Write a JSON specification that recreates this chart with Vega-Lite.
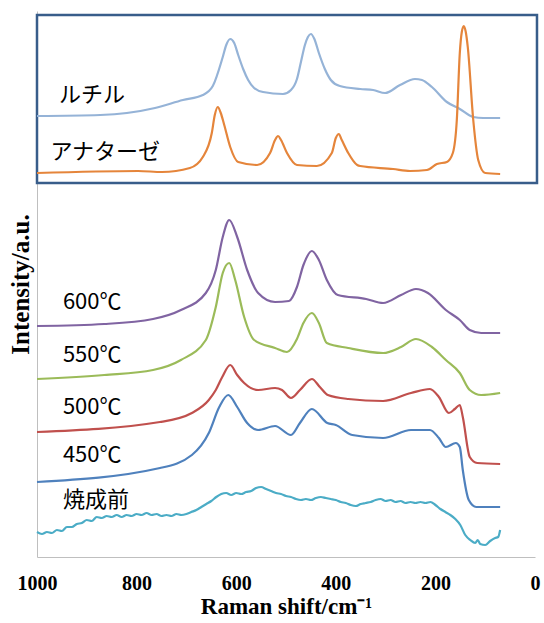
{
  "$schema": "https://vega.github.io/schema/vega-lite/v6.json",
  "width": 498,
  "height": 546,
  "autosize": {"type": "none"},
  "padding": {"left": 37, "top": 11, "right": 9, "bottom": 66},
  "background": "white",
  "config": {"view": {"stroke": null}},
  "datasets": {
    "spectra": [
      {"s":"rutile","wn":1000,"v":441},{"s":"rutile","wn":873,"v":442},{"s":"rutile","wn":763,"v":449},{"s":"rutile","wn":707,"v":457},{"s":"rutile","wn":667,"v":462},{"s":"rutile","wn":647,"v":471},{"s":"rutile","wn":627,"v":500},{"s":"rutile","wn":620,"v":512},{"s":"rutile","wn":612,"v":518},{"s":"rutile","wn":604,"v":514},{"s":"rutile","wn":596,"v":502},{"s":"rutile","wn":586,"v":488},{"s":"rutile","wn":576,"v":477},{"s":"rutile","wn":564,"v":469},{"s":"rutile","wn":546,"v":465},{"s":"rutile","wn":506,"v":463},{"s":"rutile","wn":490,"v":467},{"s":"rutile","wn":478,"v":478},{"s":"rutile","wn":470,"v":495},{"s":"rutile","wn":462,"v":512},{"s":"rutile","wn":456,"v":520},{"s":"rutile","wn":450,"v":523},{"s":"rutile","wn":443,"v":518},{"s":"rutile","wn":434,"v":504},{"s":"rutile","wn":422,"v":488},{"s":"rutile","wn":410,"v":477},{"s":"rutile","wn":392,"v":471},{"s":"rutile","wn":351,"v":468},{"s":"rutile","wn":325,"v":467},{"s":"rutile","wn":301,"v":464},{"s":"rutile","wn":271,"v":472},{"s":"rutile","wn":241,"v":478},{"s":"rutile","wn":227,"v":477},{"s":"rutile","wn":207,"v":470},{"s":"rutile","wn":177,"v":455},{"s":"rutile","wn":151,"v":448},{"s":"rutile","wn":124,"v":440},{"s":"rutile","wn":104,"v":439},{"s":"rutile","wn":70,"v":439},
      {"s":"anatase","wn":1000,"v":384},{"s":"anatase","wn":797,"v":386},{"s":"anatase","wn":749,"v":385},{"s":"anatase","wn":693,"v":389},{"s":"anatase","wn":667,"v":400},{"s":"anatase","wn":649,"v":424},{"s":"anatase","wn":643,"v":442},{"s":"anatase","wn":637,"v":450},{"s":"anatase","wn":631,"v":444},{"s":"anatase","wn":624,"v":432},{"s":"anatase","wn":612,"v":410},{"s":"anatase","wn":596,"v":395},{"s":"anatase","wn":558,"v":392},{"s":"anatase","wn":532,"v":404},{"s":"anatase","wn":522,"v":417},{"s":"anatase","wn":516,"v":421},{"s":"anatase","wn":510,"v":417},{"s":"anatase","wn":498,"v":404},{"s":"anatase","wn":478,"v":392},{"s":"anatase","wn":438,"v":391},{"s":"anatase","wn":408,"v":404},{"s":"anatase","wn":400,"v":419},{"s":"anatase","wn":394,"v":423},{"s":"anatase","wn":388,"v":417},{"s":"anatase","wn":375,"v":404},{"s":"anatase","wn":357,"v":392},{"s":"anatase","wn":351,"v":391},{"s":"anatase","wn":285,"v":388},{"s":"anatase","wn":251,"v":386},{"s":"anatase","wn":217,"v":387},{"s":"anatase","wn":197,"v":393},{"s":"anatase","wn":177,"v":395},{"s":"anatase","wn":165,"v":404},{"s":"anatase","wn":157,"v":437},{"s":"anatase","wn":151,"v":504},{"s":"anatase","wn":147,"v":525},{"s":"anatase","wn":143,"v":531},{"s":"anatase","wn":139,"v":525},{"s":"anatase","wn":135,"v":510},{"s":"anatase","wn":124,"v":437},{"s":"anatase","wn":114,"v":397},{"s":"anatase","wn":100,"v":384},{"s":"anatase","wn":70,"v":383},
      {"s":"600","wn":1000,"v":231},{"s":"600","wn":865,"v":233},{"s":"600","wn":767,"v":238},{"s":"600","wn":711,"v":247},{"s":"600","wn":661,"v":264},{"s":"600","wn":641,"v":287},{"s":"600","wn":627,"v":320},{"s":"600","wn":614,"v":337},{"s":"600","wn":598,"v":320},{"s":"600","wn":578,"v":287},{"s":"600","wn":556,"v":264},{"s":"600","wn":522,"v":255},{"s":"600","wn":494,"v":256},{"s":"600","wn":478,"v":270},{"s":"600","wn":465,"v":292},{"s":"600","wn":448,"v":306},{"s":"600","wn":434,"v":297},{"s":"600","wn":418,"v":277},{"s":"600","wn":396,"v":262},{"s":"600","wn":339,"v":258},{"s":"600","wn":305,"v":254},{"s":"600","wn":269,"v":262},{"s":"600","wn":239,"v":268},{"s":"600","wn":215,"v":264},{"s":"600","wn":179,"v":247},{"s":"600","wn":151,"v":237},{"s":"600","wn":131,"v":227},{"s":"600","wn":108,"v":224},{"s":"600","wn":70,"v":224},
      {"s":"550","wn":1000,"v":178},{"s":"550","wn":865,"v":182},{"s":"550","wn":767,"v":187},{"s":"550","wn":711,"v":197},{"s":"550","wn":661,"v":217},{"s":"550","wn":641,"v":250},{"s":"550","wn":627,"v":284},{"s":"550","wn":614,"v":294},{"s":"550","wn":602,"v":277},{"s":"550","wn":584,"v":240},{"s":"550","wn":564,"v":217},{"s":"550","wn":522,"v":209},{"s":"550","wn":498,"v":205},{"s":"550","wn":478,"v":218},{"s":"550","wn":465,"v":234},{"s":"550","wn":448,"v":244},{"s":"550","wn":434,"v":234},{"s":"550","wn":418,"v":214},{"s":"550","wn":375,"v":209},{"s":"550","wn":305,"v":204},{"s":"550","wn":269,"v":210},{"s":"550","wn":239,"v":218},{"s":"550","wn":207,"v":210},{"s":"550","wn":179,"v":197},{"s":"550","wn":151,"v":184},{"s":"550","wn":131,"v":167},{"s":"550","wn":108,"v":162},{"s":"550","wn":70,"v":164},
      {"s":"500","wn":1000,"v":125},{"s":"500","wn":753,"v":135},{"s":"500","wn":689,"v":144},{"s":"500","wn":655,"v":157},{"s":"500","wn":641,"v":167},{"s":"500","wn":628,"v":180},{"s":"500","wn":612,"v":192},{"s":"500","wn":598,"v":182},{"s":"500","wn":584,"v":174},{"s":"500","wn":556,"v":167},{"s":"500","wn":522,"v":169},{"s":"500","wn":508,"v":167},{"s":"500","wn":490,"v":159},{"s":"500","wn":472,"v":167},{"s":"500","wn":448,"v":178},{"s":"500","wn":432,"v":170},{"s":"500","wn":416,"v":162},{"s":"500","wn":375,"v":158},{"s":"500","wn":305,"v":156},{"s":"500","wn":249,"v":164},{"s":"500","wn":211,"v":168},{"s":"500","wn":193,"v":160},{"s":"500","wn":173,"v":144},{"s":"500","wn":161,"v":148},{"s":"500","wn":151,"v":152},{"s":"500","wn":145,"v":140},{"s":"500","wn":131,"v":100},{"s":"500","wn":116,"v":94},{"s":"500","wn":70,"v":93},
      {"s":"450","wn":1000,"v":75},{"s":"450","wn":753,"v":89},{"s":"450","wn":689,"v":102},{"s":"450","wn":655,"v":124},{"s":"450","wn":634,"v":150},{"s":"450","wn":616,"v":162},{"s":"450","wn":598,"v":150},{"s":"450","wn":578,"v":134},{"s":"450","wn":556,"v":127},{"s":"450","wn":522,"v":131},{"s":"450","wn":490,"v":122},{"s":"450","wn":472,"v":134},{"s":"450","wn":448,"v":148},{"s":"450","wn":417,"v":134},{"s":"450","wn":400,"v":132},{"s":"450","wn":367,"v":122},{"s":"450","wn":305,"v":119},{"s":"450","wn":249,"v":127},{"s":"450","wn":211,"v":127},{"s":"450","wn":193,"v":119},{"s":"450","wn":179,"v":110},{"s":"450","wn":159,"v":114},{"s":"450","wn":151,"v":110},{"s":"450","wn":145,"v":87},{"s":"450","wn":133,"v":57},{"s":"450","wn":118,"v":50},{"s":"450","wn":70,"v":50},
      {"s":"pre","wn":1000,"v":25},{"s":"pre","wn":990,"v":23},{"s":"pre","wn":980,"v":25},{"s":"pre","wn":970,"v":24},{"s":"pre","wn":960,"v":27},{"s":"pre","wn":950,"v":26},{"s":"pre","wn":940,"v":30},{"s":"pre","wn":930,"v":30},{"s":"pre","wn":920,"v":33},{"s":"pre","wn":910,"v":34},{"s":"pre","wn":900,"v":37},{"s":"pre","wn":890,"v":36},{"s":"pre","wn":880,"v":40},{"s":"pre","wn":870,"v":39},{"s":"pre","wn":860,"v":41},{"s":"pre","wn":850,"v":40},{"s":"pre","wn":840,"v":42},{"s":"pre","wn":830,"v":40},{"s":"pre","wn":820,"v":42},{"s":"pre","wn":810,"v":41},{"s":"pre","wn":800,"v":43},{"s":"pre","wn":790,"v":42},{"s":"pre","wn":780,"v":44},{"s":"pre","wn":770,"v":42},{"s":"pre","wn":760,"v":43},{"s":"pre","wn":750,"v":41},{"s":"pre","wn":740,"v":42},{"s":"pre","wn":730,"v":41},{"s":"pre","wn":720,"v":43},{"s":"pre","wn":710,"v":42},{"s":"pre","wn":700,"v":43},{"s":"pre","wn":690,"v":45},{"s":"pre","wn":680,"v":47},{"s":"pre","wn":670,"v":50},{"s":"pre","wn":660,"v":53},{"s":"pre","wn":650,"v":56},{"s":"pre","wn":640,"v":60},{"s":"pre","wn":630,"v":63},{"s":"pre","wn":620,"v":64},{"s":"pre","wn":610,"v":62},{"s":"pre","wn":600,"v":64},{"s":"pre","wn":590,"v":63},{"s":"pre","wn":580,"v":65},{"s":"pre","wn":570,"v":66},{"s":"pre","wn":560,"v":69},{"s":"pre","wn":550,"v":70},{"s":"pre","wn":540,"v":68},{"s":"pre","wn":530,"v":66},{"s":"pre","wn":520,"v":64},{"s":"pre","wn":510,"v":63},{"s":"pre","wn":500,"v":61},{"s":"pre","wn":490,"v":60},{"s":"pre","wn":480,"v":58},{"s":"pre","wn":470,"v":57},{"s":"pre","wn":460,"v":58},{"s":"pre","wn":450,"v":57},{"s":"pre","wn":440,"v":59},{"s":"pre","wn":430,"v":60},{"s":"pre","wn":420,"v":59},{"s":"pre","wn":410,"v":58},{"s":"pre","wn":400,"v":57},{"s":"pre","wn":390,"v":55},{"s":"pre","wn":380,"v":54},{"s":"pre","wn":370,"v":52},{"s":"pre","wn":360,"v":51},{"s":"pre","wn":350,"v":53},{"s":"pre","wn":340,"v":54},{"s":"pre","wn":330,"v":55},{"s":"pre","wn":320,"v":57},{"s":"pre","wn":310,"v":58},{"s":"pre","wn":300,"v":56},{"s":"pre","wn":290,"v":57},{"s":"pre","wn":280,"v":55},{"s":"pre","wn":270,"v":56},{"s":"pre","wn":260,"v":54},{"s":"pre","wn":250,"v":55},{"s":"pre","wn":240,"v":54},{"s":"pre","wn":230,"v":55},{"s":"pre","wn":220,"v":54},{"s":"pre","wn":210,"v":55},{"s":"pre","wn":200,"v":52},{"s":"pre","wn":190,"v":48},{"s":"pre","wn":180,"v":45},{"s":"pre","wn":170,"v":42},{"s":"pre","wn":160,"v":38},{"s":"pre","wn":150,"v":32},{"s":"pre","wn":140,"v":22},{"s":"pre","wn":130,"v":17},{"s":"pre","wn":120,"v":14},{"s":"pre","wn":115,"v":17},{"s":"pre","wn":110,"v":13},{"s":"pre","wn":100,"v":12},{"s":"pre","wn":90,"v":16},{"s":"pre","wn":80,"v":19},{"s":"pre","wn":74,"v":20},{"s":"pre","wn":70,"v":27}
    ],
    "labels": [
      {"t":"ルチル","wn":956,"v":462},
      {"t":"アナターゼ","wn":973,"v":405},
      {"t":"600℃","wn":948,"v":255},
      {"t":"550℃","wn":948,"v":202},
      {"t":"500℃","wn":948,"v":150},
      {"t":"450℃","wn":948,"v":102},
      {"t":"焼成前","wn":948,"v":57}
    ],
    "panel": [
      {"panel":"reference", "wn":1000, "wn2":-4, "v":542, "v2":374}
    ]
  },
  "encoding": {
    "x": {
      "field": "wn", "type": "quantitative",
      "scale": {"domain": [0, 1000], "reverse": true, "nice": false, "zero": false},
      "axis": {
        "values": [1000, 800, 600, 400, 200, 0],
        "format": "d",
        "title": "Raman shift/cm⁻¹",
        "grid": false, "ticks": false,
        "domainColor": "#BFBFBF", "domainWidth": 1,
        "labelFont": "Liberation Serif", "labelFontWeight": "bold", "labelFontSize": 20, "labelColor": "black",
        "labelPadding": 16, "labelFlush": false, "labelOverlap": false,
        "titleFont": "Liberation Serif", "titleFontWeight": "bold", "titleFontSize": 23, "titleColor": "black",
        "titlePadding": 2
      }
    },
    "y": {
      "field": "v", "type": "quantitative",
      "scale": {"domain": [0, 546], "nice": false, "zero": false},
      "axis": {
        "title": "Intensity/a.u.",
        "grid": false, "ticks": false, "labels": false,
        "domainColor": "#BFBFBF", "domainWidth": 1,
        "titleFont": "Liberation Serif", "titleFontWeight": "bold", "titleFontSize": 25, "titleColor": "black",
        "titlePadding": 4
      }
    }
  },
  "layer": [
    {
      "data": {"name": "panel"},
      "mark": {"type": "rect", "fill": "white", "stroke": "#385D8A", "strokeWidth": 2.5},
      "encoding": {
        "x2": {"field": "wn2"},
        "y2": {"field": "v2"}
      }
    },
    {
      "data": {"name": "spectra"},
      "mark": {"type": "line", "strokeWidth": 2.2, "interpolate": "monotone"},
      "encoding": {
        "color": {
          "field": "s", "type": "nominal", "legend": null,
          "scale": {
            "domain": ["rutile", "anatase", "600", "550", "500", "450", "pre"],
            "range": ["#95B3D7", "#E5853B", "#8064A2", "#9BBB59", "#C0504D", "#4F81BD", "#4BACC6"]
          }
        }
      }
    },
    {
      "data": {"name": "labels"},
      "mark": {"type": "text", "align": "left", "baseline": "middle", "font": "Noto Sans CJK JP", "fontSize": 22, "color": "black"},
      "encoding": {"text": {"field": "t"}}
    }
  ]
}
